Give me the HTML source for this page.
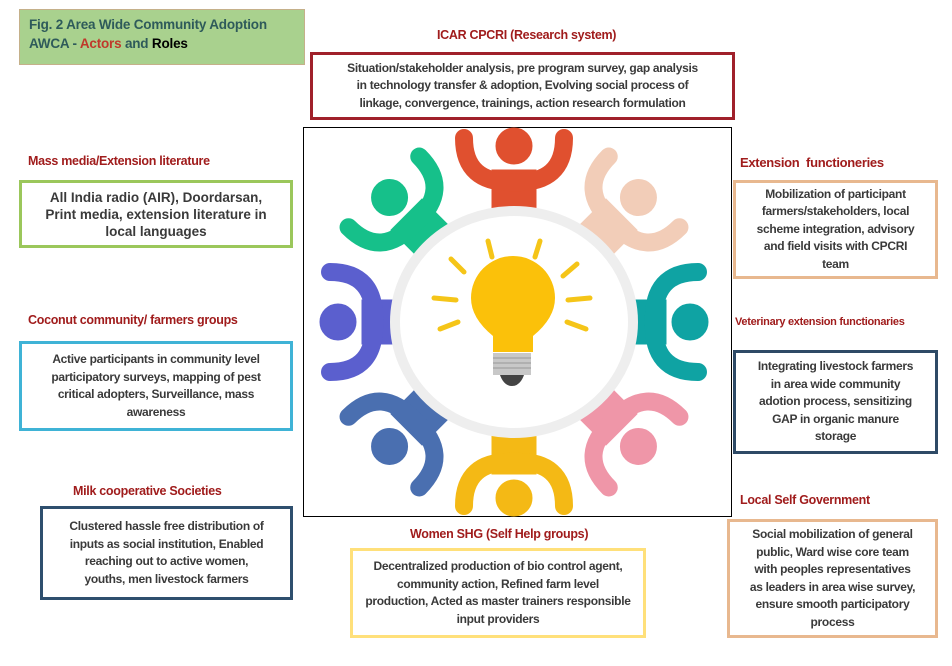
<!DOCTYPE html>
<html><head><meta charset="utf-8"><style>
*{margin:0;padding:0;box-sizing:border-box}
body{width:952px;height:666px;background:#fff;position:relative;overflow:hidden;font-family:"Liberation Sans",sans-serif}
.a{position:absolute}
.lab{position:absolute;color:#a01c1c;font-weight:bold;font-size:12.5px;letter-spacing:-0.3px;white-space:nowrap}
.box{position:absolute;border:3px solid;display:flex;align-items:center;justify-content:center;text-align:center;font-weight:bold;font-size:12px;line-height:17.5px;color:#3a3a3a;letter-spacing:-0.3px;background:#fff}
</style></head><body>
<div class="a" style="left:19px;top:9px;width:286px;height:56px;background:#a9d18e;border:1px solid #c5b08a;padding:5px 9px;font-weight:bold;font-size:13.5px;line-height:19px;color:#2e5a5a;letter-spacing:-0.2px">Fig. 2 Area Wide Community Adoption<br>AWCA - <span style="color:#c0392b">Actors</span> and <span style="color:#000">Roles</span></div>

<div class="lab" style="left:437px;top:28px">ICAR CPCRI (Research system)</div>
<div class="box" style="left:310px;top:52px;width:425px;height:68px;border-color:#a0202a">Situation/stakeholder analysis, pre program survey, gap analysis<br>in technology transfer &amp; adoption, Evolving social process of<br>linkage, convergence, trainings, action research formulation</div>

<div class="lab" style="left:28px;top:154px">Mass media/Extension literature</div>
<div class="box" style="left:19px;top:180px;width:274px;height:68px;border-color:#9bc75b;font-size:13.5px;line-height:17px;letter-spacing:0">All India radio (AIR), Doordarsan,<br>Print media, extension literature in<br>local languages</div>

<div class="lab" style="left:28px;top:313px">Coconut community/ farmers groups</div>
<div class="box" style="left:19px;top:341px;width:274px;height:90px;border-color:#3fb3d6">Active participants in community level<br>participatory surveys, mapping of pest<br>critical adopters, Surveillance, mass<br>awareness</div>

<div class="lab" style="left:73px;top:484px">Milk cooperative Societies</div>
<div class="box" style="left:40px;top:506px;width:253px;height:94px;border-color:#2e4f6e">Clustered hassle free distribution of<br>inputs as social institution, Enabled<br>reaching out to active women,<br>youths, men livestock farmers</div>

<div class="lab" style="left:740px;top:155px;font-size:13px">Extension&nbsp; functioneries</div>
<div class="box" style="left:733px;top:180px;width:205px;height:99px;border-color:#e8b88f">Mobilization of participant<br>farmers/stakeholders, local<br>scheme integration, advisory<br>and field visits with CPCRI<br>team</div>

<div class="lab" style="left:735px;top:316px;font-size:11px">Veterinary extension functionaries</div>
<div class="box" style="left:733px;top:350px;width:205px;height:104px;border-color:#2e4a66">Integrating livestock farmers<br>in area wide community<br>adotion process, sensitizing<br>GAP in organic manure<br>storage</div>

<div class="lab" style="left:740px;top:493px">Local Self Government</div>
<div class="box" style="left:727px;top:519px;width:211px;height:119px;border-color:#e8b88f">Social mobilization of general<br>public, Ward wise core team<br>with peoples representatives<br>as leaders in area wise survey,<br>ensure smooth participatory<br>process</div>

<div class="lab" style="left:410px;top:527px">Women SHG (Self Help groups)</div>
<div class="box" style="left:350px;top:548px;width:296px;height:90px;border-color:#ffe07a">Decentralized production of bio control agent,<br>community action, Refined farm level<br>production, Acted as master trainers responsible<br>input providers</div>

<svg class="a" style="left:0;top:0" width="952" height="666">
<rect x="303.5" y="127.5" width="428" height="389" fill="#fff" stroke="#000" stroke-width="1"/>
<defs>
<g id="p">
<circle cx="0" cy="-176" r="18"/>
<rect x="-22" y="-152" width="44" height="42"/>
<path d="M-50,-184 Q-50,-138 0,-140 Q50,-138 50,-184" fill="none" stroke-width="18" stroke-linecap="round"/>
</g>
</defs>
<g transform="translate(514,322)">
<g transform="rotate(0)" fill="#e0502f" stroke="#e0502f"><use href="#p"/></g>
<g transform="rotate(45)" fill="#f2cdb8" stroke="#f2cdb8"><use href="#p"/></g>
<g transform="rotate(90)" fill="#0fa3a3" stroke="#0fa3a3"><use href="#p"/></g>
<g transform="rotate(135)" fill="#ef96a8" stroke="#ef96a8"><use href="#p"/></g>
<g transform="rotate(180)" fill="#f4b915" stroke="#f4b915"><use href="#p"/></g>
<g transform="rotate(225)" fill="#4a6fb0" stroke="#4a6fb0"><use href="#p"/></g>
<g transform="rotate(270)" fill="#5b5fce" stroke="#5b5fce"><use href="#p"/></g>
<g transform="rotate(315)" fill="#16c08a" stroke="#16c08a"><use href="#p"/></g>
<ellipse cx="0" cy="0" rx="119" ry="111" fill="#fff" stroke="#eeeeee" stroke-width="10"/>
</g>
<g stroke="#f5c518" stroke-width="5" stroke-linecap="round">
<line x1="488" y1="241" x2="492" y2="257"/>
<line x1="540" y1="241" x2="535" y2="257"/>
<line x1="451" y1="259" x2="464" y2="272"/>
<line x1="577" y1="264" x2="563" y2="276"/>
<line x1="434" y1="298" x2="456" y2="300"/>
<line x1="590" y1="298" x2="568" y2="300"/>
<line x1="440" y1="329" x2="458" y2="322"/>
<line x1="586" y1="329" x2="567" y2="322"/>
</g>
<path d="M493,352 L493,336 Q471,318 471,298 A42,42 0 0 1 555,298 Q555,318 533,336 L533,352 Z" fill="#fbc10a"/>
<rect x="493" y="353" width="38" height="22" fill="#c8c8c8"/>
<g stroke="#999" stroke-width="1"><line x1="493" y1="358" x2="531" y2="358"/><line x1="493" y1="363" x2="531" y2="363"/><line x1="493" y1="368" x2="531" y2="368"/></g>
<path d="M500,375 L524,375 Q520,386 512,386 Q504,386 500,375Z" fill="#444"/>
</svg>
</body></html>
